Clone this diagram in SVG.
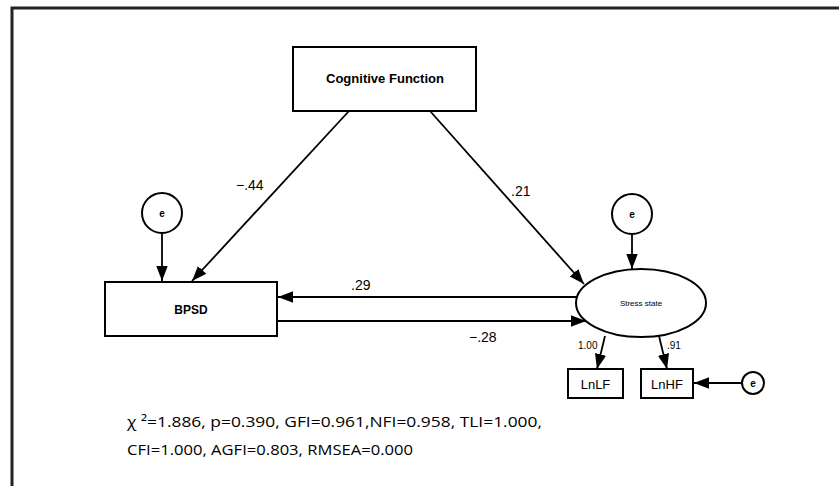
<svg xmlns="http://www.w3.org/2000/svg" width="839" height="486" viewBox="0 0 839 486">
<defs>
<marker id="ah" viewBox="0 0 10 10" refX="10" refY="5" markerWidth="15" markerHeight="15" markerUnits="userSpaceOnUse" orient="auto"><path d="M0,1.2 L10,5 L0,8.8 z" fill="#000"/></marker>
</defs>
<style>
.box{fill:#fff;stroke:#000;stroke-width:2}
.ln{stroke:#000;stroke-width:1.8;fill:none;marker-end:url(#ah)}
.lbl{font-family:"Liberation Sans",Arial,sans-serif;font-size:14px;fill:#000}
.bold{font-family:"Liberation Sans",Arial,sans-serif;font-weight:bold;font-size:12px;fill:#000}
.stat{font-family:"Open Sans","Liberation Sans",sans-serif;font-size:15px;fill:#000}
</style>
<rect width="839" height="486" fill="#fff"/>
<path d="M12,486 V8 H839" fill="none" stroke="#222" stroke-width="3"/>
<g id="connectors">
<line class="ln" x1="349" y1="111" x2="192" y2="281"/>
<line class="ln" x1="430" y1="111" x2="584" y2="284"/>
<line class="ln" x1="162" y1="233" x2="162" y2="281"/>
<line class="ln" x1="632" y1="234" x2="632" y2="269"/>
<line class="ln" x1="577" y1="297" x2="278" y2="297"/>
<line class="ln" x1="277" y1="321" x2="586" y2="321"/>
<line class="ln" x1="605" y1="336" x2="597" y2="369"/>
<line class="ln" x1="659" y1="336" x2="667" y2="369"/>
<line class="ln" x1="742" y1="383" x2="694" y2="383"/>
<text class="lbl" x="236" y="190">−.44</text>
<text class="lbl" x="511" y="196">.21</text>
<text class="lbl" x="351" y="290">.29</text>
<text class="lbl" x="469" y="342">−.28</text>
<text class="lbl" x="578" y="349" style="font-size:10px">1.00</text>
<text class="lbl" x="667" y="349" style="font-size:10px">.91</text>
</g>
<g id="cognitive">
<rect class="box" x="293" y="47" width="183" height="64"/>
<text class="bold" x="385" y="83" text-anchor="middle" textLength="118" lengthAdjust="spacingAndGlyphs">Cognitive Function</text>
</g>
<g id="bpsd">
<rect class="box" x="105" y="282" width="172" height="54"/>
<text class="bold" x="191" y="314" text-anchor="middle">BPSD</text>
</g>
<g id="stress">
<ellipse class="box" cx="641" cy="303" rx="65" ry="34"/>
<text class="lbl" x="641" y="306" text-anchor="middle" style="font-size:8px">Stress state</text>
</g>
<g id="e1">
<circle class="box" cx="162" cy="213" r="20"/>
<text class="bold" x="162" y="217" text-anchor="middle" style="font-size:10px">e</text>
</g>
<g id="e2">
<circle class="box" cx="632" cy="214" r="20"/>
<text class="bold" x="632" y="218" text-anchor="middle" style="font-size:10px">e</text>
</g>
<g id="lnlf">
<rect class="box" x="568" y="369" width="55" height="29"/>
<text class="lbl" x="595.5" y="389" text-anchor="middle" style="font-size:13px">LnLF</text>
</g>
<g id="lnhf">
<rect class="box" x="641" y="369" width="52" height="29"/>
<text class="lbl" x="667" y="389" text-anchor="middle" style="font-size:13px">LnHF</text>
</g>
<g id="e3">
<circle class="box" cx="753" cy="383" r="11"/>
<text class="bold" x="753" y="387" text-anchor="middle" style="font-size:10px">e</text>
</g>
<text class="stat" x="127" y="427" textLength="415" lengthAdjust="spacingAndGlyphs">χ ²=1.886, p=0.390, GFI=0.961,NFI=0.958, TLI=1.000,</text>
<text class="stat" x="127" y="455" textLength="286" lengthAdjust="spacingAndGlyphs">CFI=1.000,  AGFI=0.803, RMSEA=0.000</text>
</svg>
